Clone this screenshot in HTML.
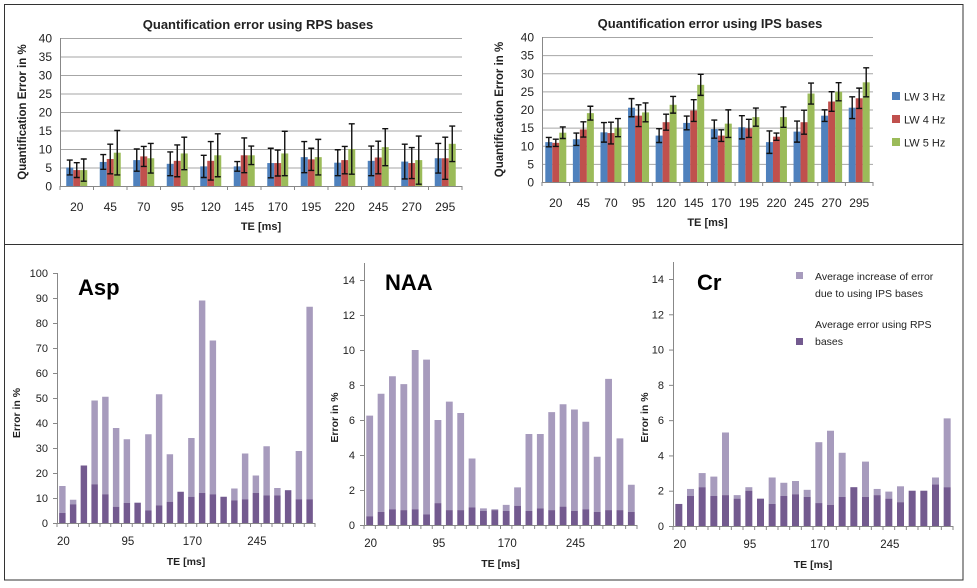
<!DOCTYPE html>
<html><head><meta charset="utf-8"><style>
html,body{margin:0;padding:0;background:#fff}
svg{display:block}
text{font-family:"Liberation Sans",sans-serif;fill:#222}
</style></head><body>
<svg id="fig" width="977" height="588" viewBox="0 0 977 588">
<rect x="4.5" y="4.5" width="958.5" height="575.5" fill="none" stroke="#333"/>
<line x1="4" y1="244.5" x2="963" y2="244.5" stroke="#333"/>
</svg>
<script>
// ---- top charts data ----
const teCats = ["20","45","70","95","120","145","170","195","220","245","270","295"];
const seriesNames = ["LW 3 Hz","LW 4 Hz","LW 5 Hz"];
const seriesColors = ["#4f81bd","#c0504d","#9bbb59"];
const rpsLW3 = [5,6.5,7,6,5.3,5.3,6.2,7.8,6.3,6.8,6.6,7.5];
const rpsLW4 = [4.3,7.3,8,6.8,6.8,8.3,6.2,7.2,7,7.7,6.2,7.5];
const rpsLW5 = [4.3,9,7.5,8.8,8.3,8.3,8.8,7.8,10,10.5,7,11.4];
const rpsErr3 = [2,2,3,3.2,3,1.3,4,4.2,3.5,4,4.7,4];
const rpsErr4 = [2,4,2.7,4.3,5.2,4.7,3.5,3,3.7,4.4,4.2,5.7];
const rpsErr5 = [3,6,4,4.4,5.8,2.5,6,4.8,6.8,5,6.5,4.8];
const ipsLW3 = [11,11.8,13.7,20.5,12.8,16.3,14.6,15.1,11,13.9,18.3,20.5];
const ipsLW4 = [10.8,14.5,13.5,18.3,16.5,19.7,12.8,14.8,12.5,16.5,22.2,23.1];
const ipsLW5 = [13.6,19,15,19.2,21.3,26.8,16.1,17.9,17.9,24.4,24.9,27.5];
const ipsErr3 = [1.3,1.7,2.7,2.5,1.9,1.9,2.5,3.2,3.1,2.9,1.6,3];
const ipsErr4 = [1,2.1,3,3,2.2,3,1.6,2.5,1,3.3,2.7,2.8];
const ipsErr5 = [1.6,1.9,2.5,2.6,2.3,2.9,3.8,2.5,2.8,2.9,2.5,4];
const topTicks = [0,5,10,15,20,25,30,35,40];
// ---- bottom charts data ----
const bottomCats = ["20","32.5","45","57.5","70","82.5","95","107.5","120","132.5","145","157.5","170","182.5","195","207.5","220","232.5","245","257.5","270","282.5","295","307.5"];
const bottomTickLabels = ["20","95","170","245"];
const aspRps = [4,7.5,23,15.5,11.5,6.5,8,8,5,7,8.5,12.5,10.5,12,11.5,10.5,9,9.5,12,11,11,13,9.5,9.5];
const aspTotal = [14.8,9.3,23,49,50.5,38,33.5,8.2,35.5,51.5,27.5,12.5,34,89,73,10.5,13.8,27.8,19,30.7,14,13.2,28.8,86.5];
const naaRps = [0.5,0.75,0.9,0.85,0.9,0.6,1.25,0.85,0.85,1.0,0.8,0.85,0.8,1.1,0.8,0.95,0.85,1.05,0.8,0.9,0.75,0.85,0.85,0.75];
const naaTotal = [6.25,7.5,8.5,8.05,10,9.45,6,7.05,6.4,3.8,0.95,0.9,1.15,2.15,5.2,5.2,6.45,6.9,6.6,5.9,3.9,8.35,4.95,2.3];
const crRps = [1.25,1.7,2.2,1.7,1.75,1.55,2.0,1.55,1.25,1.7,1.8,1.65,1.3,1.2,1.65,2.2,1.65,1.75,1.55,1.35,2.0,2.0,2.35,2.2];
const crTotal = [1.25,2.1,3.0,2.8,5.3,1.75,2.2,1.55,2.75,2.45,2.55,2.05,4.75,5.4,4.15,2.2,3.65,2.1,1.95,2.25,2.0,2.0,2.75,6.1];
const asptTicks = [0,10,20,30,40,50,60,70,80,90,100];
const smallTicks = [0,2,4,6,8,10,12,14];

const NS = "http://www.w3.org/2000/svg";
const svg = document.getElementById('fig');
function mk(tag, attrs, parent, txt){
  const e = document.createElementNS(NS, tag);
  for (const k in attrs) e.setAttribute(k, attrs[k]);
  if (txt !== undefined) e.textContent = txt;
  (parent||svg).appendChild(e);
  return e;
}

function groupedChart(o){
  const g = mk('g', {});
  
  
  const y = v => o.y0 - (v / o.ymax) * (o.y0 - o.ytop);
  const cw = (o.x1 - o.x0) / teCats.length;
  const x = i => o.x0 + cw * i + cw / 2;
  topTicks.forEach(t => {
    const gl = mk('line', {x1:o.x0, x2:o.x1, y1:y(t)+0.5, y2:y(t)+0.5, stroke: t===0 ? '#888' : '#a6a6a6', 'stroke-width':1}, g);
    
    
    const tl = mk('text', {x:o.x0-8, y:y(t)+4.5, 'text-anchor':'end', 'font-size':12}, g, String(t));
    
    
  });
  mk('line', {x1:o.x0+0.5, x2:o.x0+0.5, y1:o.ytop, y2:o.y0, stroke:'#888'}, g);
  for (let i = 0; i <= teCats.length; i++) {
    mk('line', {x1:o.x0+cw*i, x2:o.x0+cw*i, y1:o.y0, y2:o.y0+4, stroke:'#888'}, g);
  }
  teCats.forEach((c, i) => {
    const tl = mk('text', {x:x(i), y:o.labY, 'text-anchor':'middle', 'font-size':12}, g, c);
    
    
    o.vals.forEach((arr, s) => {
      const bw = 7;
      const bx = x(i) - 10.5 + s * bw;
      const r = mk('rect', {x:bx, y:y(arr[i]), width:bw, height:o.y0 - y(arr[i]), fill:seriesColors[s]}, g);
      
      
      const cx = bx + bw/2, hi = y(arr[i] + o.errs[s][i]), lo = y(Math.max(0, arr[i] - o.errs[s][i]));
      const eb = mk('path', {d:`M${cx},${hi}V${lo}M${cx-3},${hi}H${cx+3}M${cx-3},${lo}H${cx+3}`, stroke:'#111', 'stroke-width':1.4, fill:'none'}, g);
      
      
    });
  });
  const ti = mk('text', {x:o.titleX, y:o.titleY, 'text-anchor':'middle', 'font-size':13, 'font-weight':'bold'}, g, o.title);
  
  
  const xt = mk('text', {x:(o.x0+o.x1)/2, y:o.labY+19, 'text-anchor':'middle', 'font-size':11, 'font-weight':'bold'}, g, 'TE [ms]');
  
  
  const yt = mk('text', {x:0, y:0, 'text-anchor':'middle', 'font-size':11.5, 'font-weight':'bold', transform:`translate(${o.yLabX},${(o.y0+o.ytop)/2}) rotate(-90)`}, g, 'Quantification Error in %');
  
  
}

groupedChart({name:'rps-error-chart', title:'Quantification error using RPS bases', titleX:258, titleY:29,
  x0:60, x1:462, y0:186, ytop:38, ymax:40, labY:211, yLabX:26,
  vals:[rpsLW3,rpsLW4,rpsLW5], errs:[rpsErr3,rpsErr4,rpsErr5]});
groupedChart({name:'ips-error-chart', title:'Quantification error using IPS bases', titleX:710, titleY:28,
  x0:542, x1:873, y0:182, ytop:37, ymax:40, labY:207, yLabX:503,
  vals:[ipsLW3,ipsLW4,ipsLW5], errs:[ipsErr3,ipsErr4,ipsErr5]});

seriesNames.forEach((n, s) => {
  const yy = 97 + s * 23;
  const r = mk('rect', {x:892, y:yy-5, width:8, height:8, fill:seriesColors[s]});
  
  
  const t = mk('text', {x:904, y:yy+3.5, 'font-size':11}, undefined, n);
  
  
});

function stackChart(o){
  const g = mk('g', {});
  
  
  const y = v => o.y0 - (v / o.ymax) * (o.y0 - o.ytop);
  const n = bottomCats.length;
  const cw = (o.x1 - o.x0) / n;
  const x = i => o.x0 + cw * i + cw / 2;
  mk('line', {x1:o.x0+0.5, x2:o.x0+0.5, y1:o.axisTop, y2:o.y0, stroke:'#888'}, g);
  mk('line', {x1:o.x0, x2:o.x1, y1:o.y0+0.5, y2:o.y0+0.5, stroke:'#888'}, g);
  o.ticks.forEach(t => {
    mk('line', {x1:o.x0-4, x2:o.x0, y1:y(t)+0.5, y2:y(t)+0.5, stroke:'#888'}, g);
    const tl = mk('text', {x:o.x0-9, y:y(t)+4, 'text-anchor':'end', 'font-size':11}, g, String(t));
    
    
  });
  for (let i = 0; i <= n; i++) mk('line', {x1:o.x0+cw*i, x2:o.x0+cw*i, y1:o.y0, y2:o.y0+4, stroke:'#888'}, g);
  bottomTickLabels.forEach(lab => {
    const i = bottomCats.indexOf(lab);
    const tl = mk('text', {x:x(i)+1, y:o.y0+22, 'text-anchor':'middle', 'font-size':11.5}, g, lab);
    
    
  });
  const bw = cw * 0.6;
  o.rps.forEach((v, i) => {
    const tot = o.total[i];
    const inc = mk('rect', {x:x(i)-bw/2, y:y(tot), width:bw, height:y(v)-y(tot), fill:'#a79bbd'}, g);
    
    
    const d = mk('rect', {x:x(i)-bw/2, y:y(v), width:bw, height:o.y0-y(v), fill:'#735a8f'}, g);
    
    
  });
  const ti = mk('text', {x:o.labelX, y:o.labelY, 'font-size':22, 'font-weight':'bold', style:'fill:#000'}, g, o.label);
  
  
  const xt = mk('text', {x:(o.x0+o.x1)/2, y:o.y0+42, 'text-anchor':'middle', 'font-size':10.5, 'font-weight':'bold'}, g, 'TE [ms]');
  
  
  const yt = mk('text', {x:0, y:0, 'text-anchor':'middle', 'font-size':10.5, 'font-weight':'bold', transform:`translate(${o.x0-o.yOff},${(o.y0+o.ytop)/2+15}) rotate(-90)`}, g, 'Error in %');
  
  
}

stackChart({name:'asp-chart', label:'Asp', labelX:78, labelY:295, x0:57, x1:315, y0:523, ytop:273, axisTop:273, ymax:100, ticks:asptTicks, rps:aspRps, total:aspTotal, yOff:37});
stackChart({name:'naa-chart', label:'NAA', labelX:385, labelY:290, x0:364, x1:637, y0:525, ytop:280, axisTop:263, ymax:14, ticks:smallTicks, rps:naaRps, total:naaTotal, yOff:26});
stackChart({name:'cr-chart', label:'Cr', labelX:697, labelY:290, x0:673, x1:953, y0:526, ytop:279, axisTop:262, ymax:14, ticks:smallTicks, rps:crRps, total:crTotal, yOff:25});

const l1 = mk('rect', {x:796, y:272, width:7, height:7, fill:'#a79bbd'});


const lt1 = mk('text', {x:815, y:280, 'font-size':10.5}, undefined, 'Average increase of error');


mk('text', {x:815, y:297, 'font-size':10.5}, undefined, 'due to using IPS bases');
const l2 = mk('rect', {x:796, y:338, width:7, height:7, fill:'#735a8f'});


const lt2 = mk('text', {x:815, y:328, 'font-size':10.5}, undefined, 'Average error using RPS');


mk('text', {x:815, y:345, 'font-size':10.5}, undefined, 'bases');
</script>
</body></html>
